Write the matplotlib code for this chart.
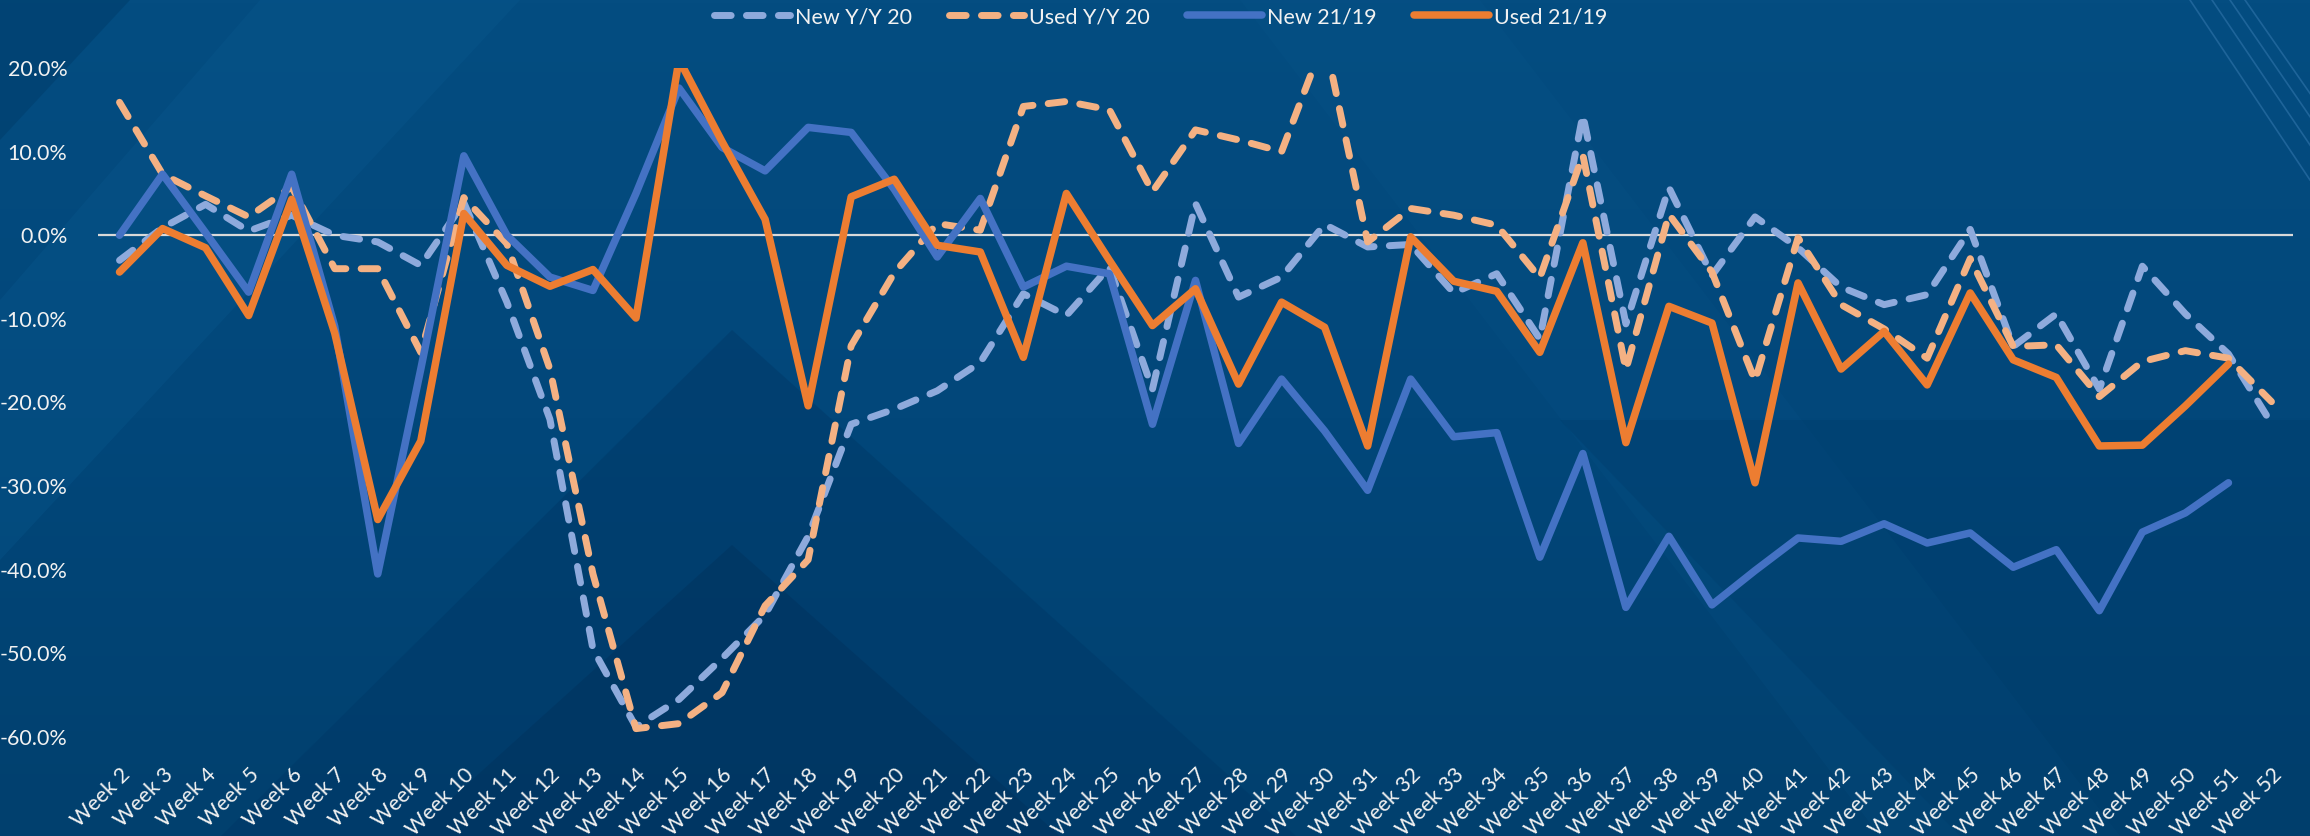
"""
Weekly new/used change vs prior years - line chart on a dark blue slide background
"""

import numpy as np
import matplotlib
matplotlib.use('Agg')
import matplotlib.pyplot as plt
from matplotlib.patches import Polygon

plt.rcParams['font.family'] = ['Lato', 'DejaVu Sans']

# ---- data (percent) ----
weeks = [f'Week {n}' for n in range(2, 53)]

new_yy_20 = [-3.0, 0.9, 3.7, 0.5, 2.4, 0.0, -0.8, -3.6, 3.9, -8.0,
             -22.0, -49.5, -58.8, -55.5, -50.6, -45.4, -36.0, -22.6, -20.8, -18.6,
             -15.2, -7.0, -9.6, -3.8, -18.4, 3.8, -7.4, -5.0, 1.3, -1.4,
             -1.1, -6.9, -4.6, -12.4, 14.4, -10.6, 5.7, -4.8, 2.2, -1.5,
             -6.2, -8.3, -7.1, 0.7, -13.3, -9.4, -18.4, -3.7, -9.4, -14.2,
             -22.5]

used_yy_20 = [15.9, 7.3, 4.7, 2.2, 5.8, -4.0, -4.0, -14.0, 4.5, -1.0,
              -16.0, -40.5, -59.0, -58.4, -54.7, -44.3, -38.8, -13.2, -4.5, 1.4,
              0.6, 15.4, 16.0, 15.0, 5.2, 12.6, 11.4, 10.0, 23.5, -0.8,
              3.2, 2.4, 1.2, -5.1, 9.6, -16.1, 2.5, -4.4, -17.4, -0.3,
              -8.3, -11.2, -14.7, -2.8, -13.3, -13.1, -19.3, -15.1, -13.8, -14.7,
              -19.9]

new_21_19 = [0.0, 7.3, 0.3, -6.8, 7.3, -10.9, -40.5, -16.0, 9.5, 0.0,
             -5.0, -6.6, 5.0, 17.6, 10.5, 7.7, 12.9, 12.3, 5.5, -2.6,
             4.4, -6.2, -3.7, -4.6, -22.6, -5.4, -24.9, -17.2, -23.4, -30.5,
             -17.2, -24.1, -23.6, -38.5, -26.1, -44.5, -36.0, -44.2, -40.1, -36.2,
             -36.6, -34.5, -36.8, -35.6, -39.7, -37.6, -44.9, -35.5, -33.2, -29.6,
             np.nan]

used_21_19 = [-4.4, 0.8, -1.5, -9.6, 4.3, -11.7, -34.0, -24.6, 2.6, -3.6,
              -6.1, -4.1, -9.9, 21.0, 11.2, 1.9, -20.4, 4.6, 6.7, -1.2,
              -2.0, -14.6, 5.0, -3.0, -10.8, -6.4, -17.8, -8.0, -11.0, -25.2,
              -0.2, -5.5, -6.7, -14.0, -0.9, -24.8, -8.5, -10.5, -29.6, -5.7,
              -16.0, -11.5, -17.9, -6.9, -14.9, -17.0, -25.2, -25.1, -20.4, -15.4,
              np.nan]

y_ticks = [20, 10, 0, -10, -20, -30, -40, -50, -60]

W, H = 2310, 836
fig = plt.figure(figsize=(W / 100, H / 100), dpi=100)
fig.patch.set_facecolor('#03497b')

# ---- background decoration ----
bg = fig.add_axes([0, 0, 1, 1], zorder=-5)
bg.set_xlim(0, W)
bg.set_ylim(H, 0)
bg.axis('off')
grad = np.linspace(0, 1, 256).reshape(-1, 1)
bg.imshow(grad, extent=[0, W, H, 0], aspect='auto',
          cmap=matplotlib.colors.LinearSegmentedColormap.from_list(
              'bgc', ['#044d81', '#02477a', '#01406e']))

shapes = [
    ([(0, 140), (130, 0), (0, 0)], '#003d6b', 0.55),
    ([(0, 560), (0, 300), (260, 0), (520, 0)], '#0a5a90', 0.3),
    ([(1240, 0), (1480, 0), (2120, 836), (1880, 836)], '#0b5a8f', 0.15),
    ([(732, 330), (1296, 836), (221, 836)], '#003766', 0.45),
    ([(732, 545), (1060, 836), (410, 836)], '#00315c', 0.45),
    ([(1560, 420), (2310, 420), (2310, 836), (1960, 836)], '#003a68', 0.3),
]
for pts, col, a in shapes:
    bg.add_patch(Polygon(pts, closed=True, facecolor=col, edgecolor='none', alpha=a))

for off in [0, 22, 40, 55]:
    bg.plot([2190 + off, 2310 + off * 0.4], [0, 180 - off], color='#2a6fa5', lw=1.2, alpha=0.7)

# ---- main chart ----
ax = fig.add_axes([98 / W, 1 - 737 / H, (2293 - 98) / W, (737 - 68) / H])
ax.set_facecolor('none')
x = np.arange(len(weeks))

ax.axhline(0, color='#d9d9d9', lw=1.6, zorder=1)

ax.plot(x, new_yy_20, color='#8eaadc', lw=5.0, ls=(0, (2.4, 2.2)),
        dash_capstyle='round', solid_joinstyle='round', label='New Y/Y 20', zorder=2)
ax.plot(x, used_yy_20, color='#f4b183', lw=5.0, ls=(0, (2.4, 2.2)),
        dash_capstyle='round', solid_joinstyle='round', label='Used Y/Y 20', zorder=3)
ax.plot(x, new_21_19, color='#4472c4', lw=5.4, solid_joinstyle='round',
        solid_capstyle='round', label='New 21/19', zorder=4)
ax.plot(x, used_21_19, color='#ed7d31', lw=5.4, solid_joinstyle='round',
        solid_capstyle='round', label='Used 21/19', zorder=5)

ax.set_xlim(-0.5, len(weeks) - 0.5)
ax.set_ylim(-60, 20)
ax.set_yticks(y_ticks)
ax.set_yticklabels([f'{v:.1f}%' for v in y_ticks])
ax.set_xticks(x)
ax.set_xticklabels(weeks, rotation=45, ha='right', rotation_mode='anchor')

ax.tick_params(axis='y', length=0, pad=22, labelsize=15.5, labelcolor='#f2f2f2')
ax.tick_params(axis='x', length=0, pad=20, labelsize=15.5, labelcolor='#f2f2f2')
for s in ax.spines.values():
    s.set_visible(False)

leg = fig.legend(loc='center', bbox_to_anchor=(1161 / W, 1 - 17 / H), ncol=4,
                 frameon=False, fontsize=15.5, handlelength=3.5, handletextpad=0.25,
                 columnspacing=1.7)
for t in leg.get_texts():
    t.set_color('#f2f2f2')

plt.savefig('out.png', dpi=100, facecolor=fig.get_facecolor())
plt.close()
